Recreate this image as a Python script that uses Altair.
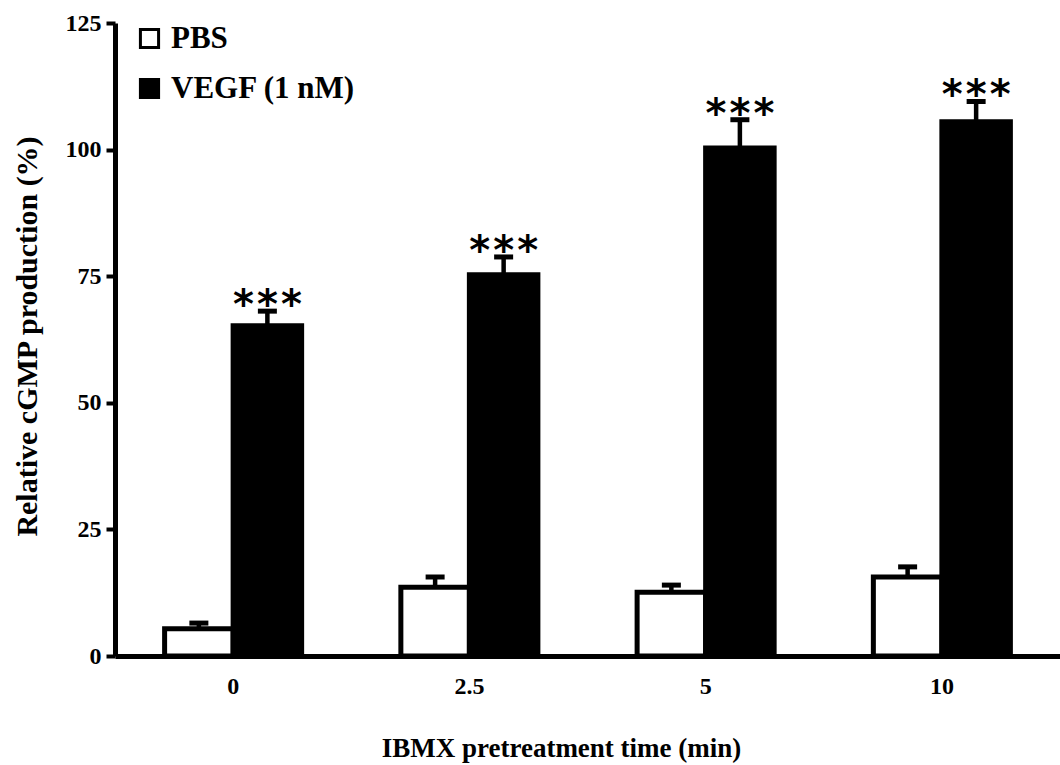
import altair as alt
import pandas as pd

times = ["0", "2.5", "5", "10"]
series_names = ["PBS", "VEGF (1 nM)"]
pbs_values = [5.4, 13.6, 12.6, 15.6]
pbs_errors = [1.1, 2.0, 1.4, 2.0]
vegf_values = [65.2, 75.3, 100.3, 105.5]
vegf_errors = [2.9, 3.5, 5.6, 4.0]
vegf_marks = ["***", "***", "***", "***"]

rows = []
for i, t in enumerate(times):
    rows.append({"time": t, "series": series_names[0], "value": pbs_values[i],
                 "upper": pbs_values[i] + pbs_errors[i], "sig": ""})
    rows.append({"time": t, "series": series_names[1], "value": vegf_values[i],
                 "upper": vegf_values[i] + vegf_errors[i], "sig": vegf_marks[i]})
df = pd.DataFrame(rows)

SERIF = "Liberation Serif"

x_enc = alt.X("time:N", sort=times,
              scale=alt.Scale(paddingInner=0.42, paddingOuter=0.21),
              axis=alt.Axis(title="IBMX pretreatment time (min)", labelAngle=0,
                            ticks=False, domainWidth=5, domainColor="black",
                            labelFont=SERIF, labelFontSize=24, labelFontWeight="bold",
                            labelColor="black", labelPadding=18,
                            titleFont=SERIF, titleFontSize=27, titleFontWeight="bold",
                            titleColor="black", titleX=446, titleY=92,
                            titleAlign="center", titleBaseline="middle"))
xo_enc = alt.XOffset("series:N", sort=series_names,
                     scale=alt.Scale(paddingInner=0, paddingOuter=0))
y_scale = alt.Scale(domain=[0, 125], nice=False)

bars = alt.Chart(df).mark_bar(stroke="black", strokeWidth=5).encode(
    x=x_enc,
    xOffset=xo_enc,
    y=alt.Y("value:Q", scale=y_scale,
            axis=alt.Axis(values=[0, 25, 50, 75, 100, 125], grid=False,
                          tickSize=9, tickWidth=4, tickColor="black",
                          domainWidth=5, domainColor="black",
                          labelFont=SERIF, labelFontSize=24, labelFontWeight="bold",
                          labelColor="black", labelPadding=5,
                          title="Relative cGMP production (%)",
                          titleFont=SERIF, titleFontSize=30, titleFontWeight="bold",
                          titleColor="black", titleX=-88, titleY=313,
                          titleAngle=270, titleAlign="center", titleBaseline="middle")),
    fill=alt.Fill("series:N", scale=alt.Scale(domain=series_names, range=["white", "black"]),
                  legend=alt.Legend(title=None, orient="none", legendX=19, legendY=0,
                                    symbolType="square", symbolSize=330,
                                    symbolStrokeColor="black", symbolStrokeWidth=3,
                                    symbolOpacity=1, labelLimit=0,
                                    labelFont=SERIF, labelFontSize=31, labelFontWeight="bold",
                                    labelColor="black", labelOffset=6, rowPadding=18,
                                    padding=0)),
)

stems = alt.Chart(df).mark_rule(color="black", strokeWidth=4.5).encode(
    x=alt.X("time:N", sort=times),
    xOffset=alt.XOffset("series:N", sort=series_names),
    y=alt.Y("value:Q", scale=y_scale),
    y2="upper:Q",
)

caps = alt.Chart(df).mark_tick(color="black", thickness=5, size=19, opacity=1).encode(
    x=alt.X("time:N", sort=times),
    xOffset=alt.XOffset("series:N", sort=series_names),
    y=alt.Y("upper:Q", scale=y_scale),
)

sig_df = df[df["series"] == series_names[1]]
stars = []
for dx in (-24, 0, 24):
    stars.append(
        alt.Chart(sig_df).mark_text(font="DejaVu Sans", fontSize=40, fontWeight="bold",
                                    color="black", baseline="alphabetic", dy=7, dx=dx,
                                    align="center").encode(
            x=alt.X("time:N", sort=times),
            xOffset=alt.XOffset("series:N", sort=series_names),
            y=alt.Y("upper:Q", scale=y_scale),
            text=alt.value("*"),
        )
    )

chart = alt.layer(bars, stems, caps, *stars).properties(
    width=945, height=633,
    padding={"left": 115, "top": 23, "right": 0, "bottom": 109},
    autosize="none",
    background="white",
).configure_view(stroke=None)

chart.save("out.html", embed_options={"renderer": "svg", "actions": False})
